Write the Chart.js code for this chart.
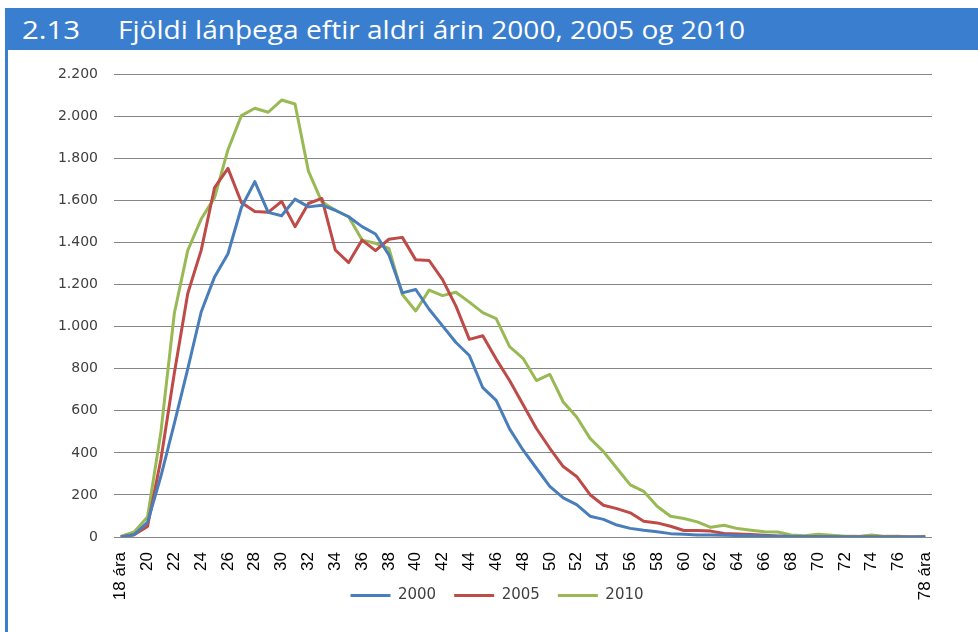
<!DOCTYPE html>
<html>
<head>
<meta charset="utf-8">
<script src="https://cdn.jsdelivr.net/npm/chart.js@4.4.1/dist/chart.umd.min.js"></script>
<style>
  body { margin: 0; width: 978px; height: 632px; position: relative; overflow: hidden; background: #fff; font-family: "Open Sans", sans-serif; }
  #bar { position: absolute; left: 5px; top: 8px; width: 973px; height: 42px; background: #3A7ECF; }
  #frame { position: absolute; left: 5px; top: 50px; width: 3px; height: 582px; background: #3A7ECF; }
  .tt { position: absolute; top: 8px; height: 42px; line-height: 42px; color: #fff; font-size: 26px; white-space: nowrap; transform-origin: 0 50%; }
  #wrap { position: absolute; left: 0; top: 50px; width: 978px; height: 582px; }
</style>
</head>
<body>
<div id="bar"></div>
<div id="frame"></div>
<div class="tt" id="num" style="left:22px">2.13</div>
<div class="tt" id="title" style="left:118px">Fjöldi lánþega eftir aldri árin 2000, 2005 og 2010</div>
<div id="wrap"><canvas id="chart" width="978" height="582"></canvas></div>

<script>
  // aldur
  const ages = ['18 ára', '19', '20', '21', '22', '23', '24', '25', '26', '27',
    '28', '29', '30', '31', '32', '33', '34', '35', '36', '37',
    '38', '39', '40', '41', '42', '43', '44', '45', '46', '47',
    '48', '49', '50', '51', '52', '53', '54', '55', '56', '57',
    '58', '59', '60', '61', '62', '63', '64', '65', '66', '67',
    '68', '69', '70', '71', '72', '73', '74', '75', '76', '77', '78 ára'];

  const y2000 = [0, 11, 70, 290, 540, 800, 1070, 1237, 1347, 1567,
    1690, 1544, 1528, 1607, 1570, 1578, 1554, 1523, 1476, 1441,
    1342, 1161, 1177, 1083, 1004, 925, 863, 710, 650, 514,
    414, 327, 241, 186, 154, 99, 84, 57, 41, 32,
    25, 16, 13, 10, 9, 8, 7, 6, 5, 3,
    2, 1, 1, 1, 0, 0, 0, 0, 0, 0, 0];

  const y2005 = [0, 11, 50, 370, 780, 1158, 1363, 1662, 1753, 1591,
    1548, 1544, 1596, 1476, 1586, 1610, 1365, 1305, 1412, 1362,
    1416, 1425, 1318, 1315, 1224, 1098, 940, 957, 846, 744,
    630, 516, 422, 335, 288, 201, 151, 135, 115, 75,
    67, 51, 31, 31, 28, 17, 14, 12, 8, 5,
    2, 1, 1, 0, 0, 0, 0, 0, 0, 0, 0];

  const y2010 = [3, 24, 95, 500, 1064, 1363, 1512, 1614, 1842, 2004,
    2039, 2020, 2078, 2059, 1740, 1594, 1554, 1523, 1412, 1397,
    1373, 1153, 1075, 1174, 1148, 1164, 1117, 1067, 1039, 905,
    850, 744, 773, 642, 571, 469, 406, 327, 248, 217,
    146, 99, 88, 72, 46, 56, 40, 32, 25, 24,
    10, 6, 13, 8, 3, 3, 10, 3, 3, 0, 3];

  const seriesNames = ['2000', '2005', '2010'];
  const colors = ['#4A7EBB', '#BE4B48', '#98B954'];

  // titill: teygja texta svo breiddin passi
  function fitWidth(id, w) {
    const el = document.getElementById(id);
    const r = el.getBoundingClientRect().width;
    el.style.transform = 'scaleX(' + (w / r) + ')';
  }
  fitWidth('num', 58);
  fitWidth('title', 627);

  // ekki klippa ás-merkingar (x-merkingar ná niður fyrir skýringuna)
  Chart.Scale.prototype._computeLabelArea = function () { return undefined; };

  const fmt = v => String(v).replace(/\B(?=(\d{3})+(?!\d))/g, '.');

  const datasets = [y2000, y2005, y2010].map((d, i) => ({
    label: seriesNames[i],
    data: d,
    borderColor: colors[i],
    backgroundColor: colors[i],
    borderWidth: 3,
    pointRadius: 0,
    tension: 0,
    borderJoinStyle: 'round',
    fill: false
  }));

  new Chart(document.getElementById('chart'), {
    type: 'line',
    data: { labels: ages, datasets },
    options: {
      responsive: false,
      animation: false,
      devicePixelRatio: 1,
      layout: { padding: { left: 62, right: 46, top: 20, bottom: 19 } },
      plugins: {
        tooltip: { enabled: false },
        legend: {
          position: 'bottom',
          labels: {
            font: { family: 'DejaVu Sans', size: 15 },
            color: '#404040',
            boxWidth: 40,
            boxHeight: 3,
            padding: 18,
            generateLabels(chart) {
              const items = Chart.defaults.plugins.legend.labels.generateLabels(chart);
              items.forEach(it => { it.lineWidth = 0; it.fillStyle = it.strokeStyle; });
              return items;
            }
          }
        }
      },
      scales: {
        x: {
          offset: true,
          grid: { display: false },
          border: { display: false },
          ticks: {
            autoSkip: false,
            minRotation: 90,
            maxRotation: 90,
            padding: 7,
            color: '#000',
            font: { family: 'Liberation Sans', size: 17 },
            callback: (v, i) => (i % 2 === 0 ? ages[i] : null)
          },
          afterFit: s => { s.height = 33; }
        },
        y: {
          min: 0,
          max: 2200,
          grid: { color: '#868686', lineWidth: 1, drawTicks: false },
          border: { display: false },
          ticks: {
            stepSize: 200,
            padding: 16,
            color: '#404040',
            font: { family: 'DejaVu Sans', size: 14 },
            callback: v => fmt(v)
          },
          afterFit: s => { s.width = 52; }
        }
      }
    }
  });
</script>
</body>
</html>
